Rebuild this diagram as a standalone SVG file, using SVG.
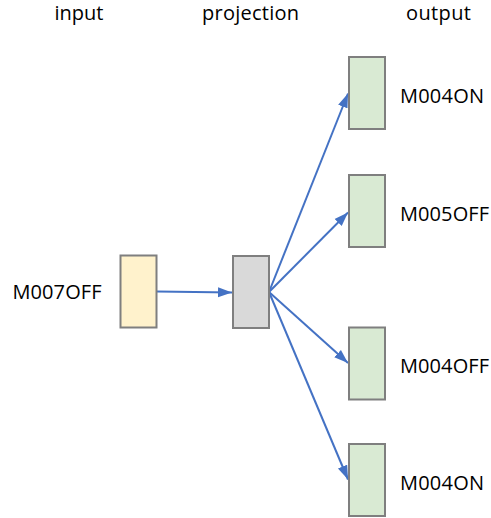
<svg xmlns="http://www.w3.org/2000/svg" width="491" height="518" viewBox="0 0 491 518">
  <style>
    text { font-family: "Open Sans", "Liberation Sans", sans-serif; fill: #000; }
    .hdr { font-size: 20px; }
    .lbl { font-size: 20px; }
    .box { stroke: #7f7f7f; stroke-width: 2; }
    .in { fill: #fff2cc; }
    .proj { fill: #d9d9d9; }
    .out { fill: #d9ead3; }
    .edge { fill: none; stroke: #4472c4; stroke-width: 2; marker-end: url(#arrow); }
  </style>
  <defs>
    <marker id="arrow" markerUnits="userSpaceOnUse" markerWidth="16" markerHeight="12" viewBox="0 0 16 12" refX="14" refY="6" orient="auto">
      <path d="M0,1 L14,6 L0,11 z" fill="#4472c4"/>
    </marker>
  </defs>

  <!-- column headers -->
  <g id="headers">
    <text class="hdr" x="54.5" y="20" textLength="49">input</text>
    <text class="hdr" x="202" y="20" textLength="97">projection</text>
    <text class="hdr" x="406" y="20" textLength="65">output</text>
  </g>

  <!-- connectors -->
  <g id="connectors">
    <line class="edge" x1="157" y1="291.5" x2="232" y2="292.5"/>
    <line class="edge" x1="269" y1="292" x2="348" y2="93.5"/>
    <line class="edge" x1="269" y1="292" x2="348" y2="212.5"/>
    <line class="edge" x1="269" y1="292" x2="348" y2="363"/>
    <line class="edge" x1="269" y1="292" x2="348" y2="479.5"/>
  </g>

  <g id="input">
    <rect class="box in" x="120.5" y="255.5" width="36" height="72"/>
    <text class="lbl" x="12.5" y="298.5" textLength="89">M007OFF</text>
  </g>

  <g id="projection">
    <rect class="box proj" x="233" y="256" width="36" height="72"/>
  </g>

  <g id="out1">
    <rect class="box out" x="349" y="57" width="36" height="72"/>
    <text class="lbl" x="400" y="102.5" textLength="84">M004ON</text>
  </g>
  <g id="out2">
    <rect class="box out" x="349" y="175" width="36" height="72"/>
    <text class="lbl" x="400" y="220.5" textLength="89">M005OFF</text>
  </g>
  <g id="out3">
    <rect class="box out" x="349" y="327.5" width="36" height="72"/>
    <text class="lbl" x="400" y="372.5" textLength="89">M004OFF</text>
  </g>
  <g id="out4">
    <rect class="box out" x="349" y="444" width="36" height="72"/>
    <text class="lbl" x="400" y="489.5" textLength="84">M004ON</text>
  </g>
</svg>
